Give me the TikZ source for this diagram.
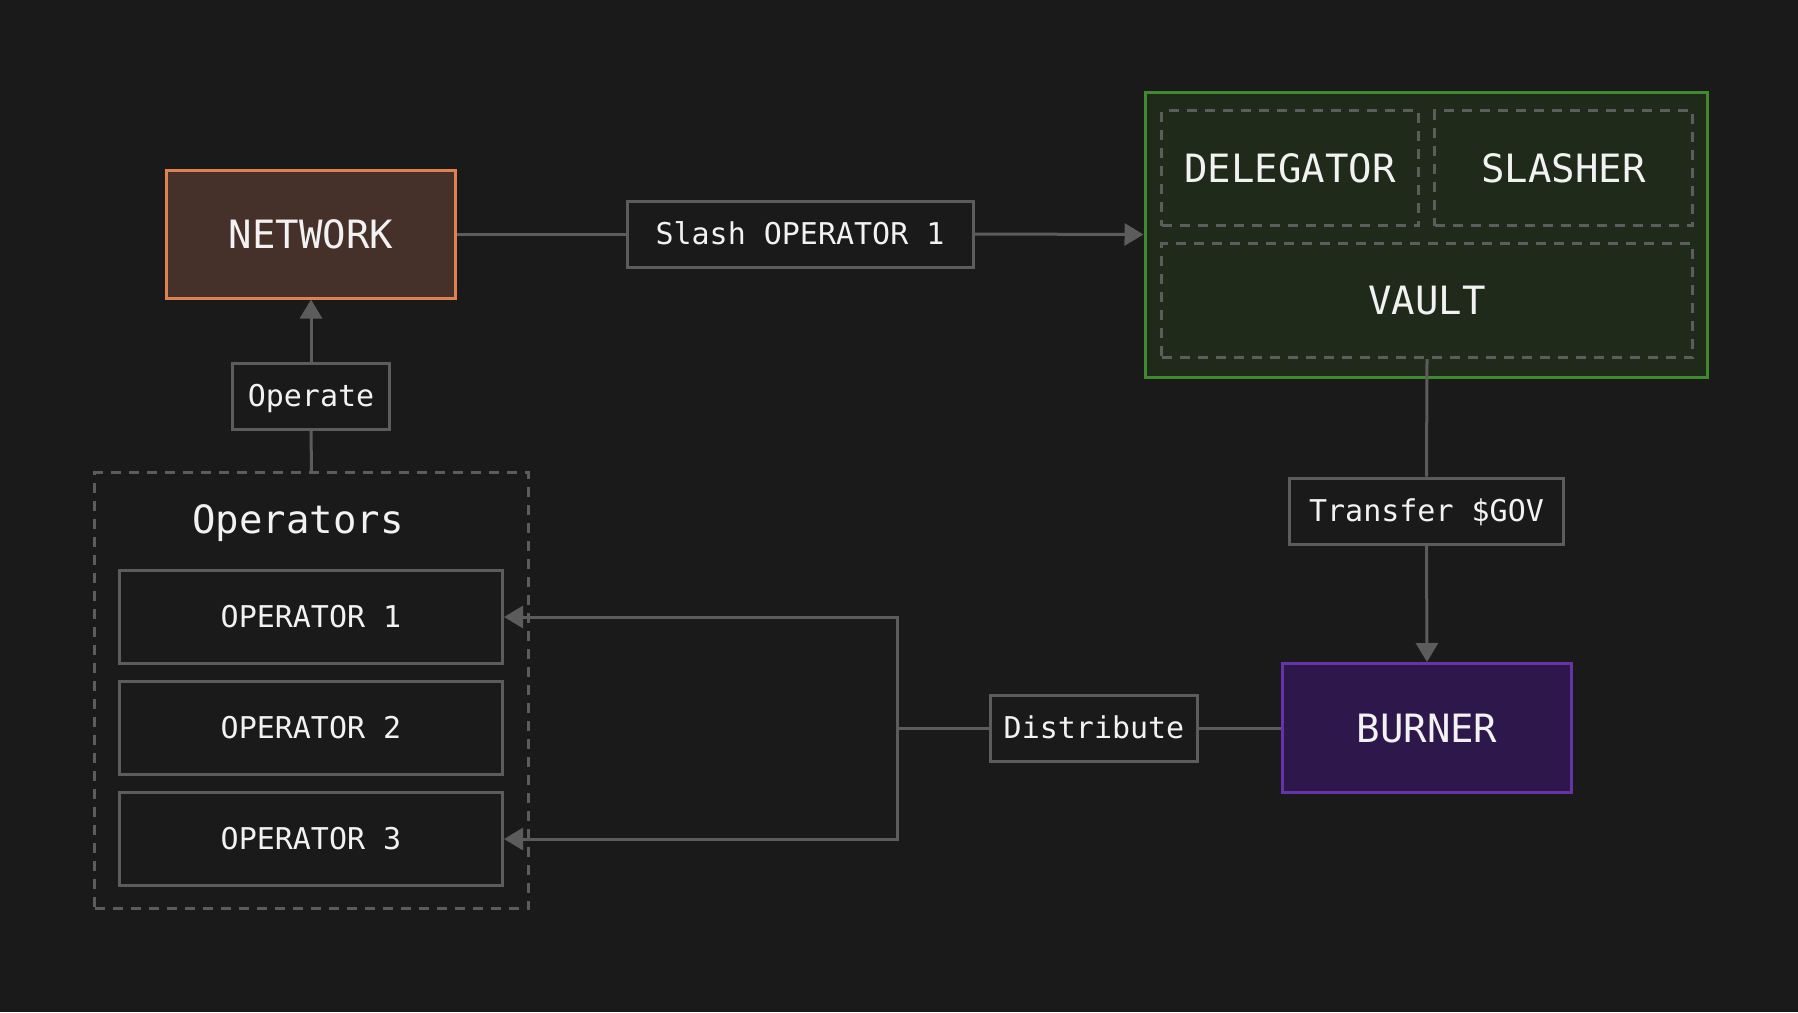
\documentclass[tikz,border=0pt]{standalone}
\usepackage{fontspec}
\setmainfont{DejaVu Sans Mono}
\usetikzlibrary{arrows.meta}
\definecolor{bg}{HTML}{1A1A1A}
\definecolor{ln}{HTML}{5C5C5C}
\definecolor{tx}{HTML}{F2F2F2}
\definecolor{netfill}{HTML}{46302A}
\definecolor{netdraw}{HTML}{E0814F}
\definecolor{grfill}{HTML}{1F2A1B}
\definecolor{grdraw}{HTML}{3F8A2C}
\definecolor{pufill}{HTML}{2E174A}
\definecolor{pudraw}{HTML}{6633A8}
\tikzset{
  base/.style={rectangle, inner sep=0pt, text=tx, line width=3pt, text depth=0pt},
  small/.style={base, draw=ln, fill=bg, font=\fontsize{30}{36}\selectfont, text height=21.9pt},
  big/.style={base, font=\fontsize{39}{46}\selectfont, text height=28.4pt},
  dbox/.style={base, draw=ln, dashed, dash pattern=on 10pt off 8pt, line width=2.5pt},
  conn/.style={draw=ln, line width=3pt},
  arr/.style={conn, -{Triangle[length=19pt,width=22pt]}},
}
\begin{document}
\begin{tikzpicture}[x=1pt,y=-1pt]
\useasboundingbox[fill=bg] (0,0) rectangle (1798,1012);

% top-left
\node[big, draw=netdraw, fill=netfill, minimum width=289pt, minimum height=128pt] (network) at (311,234) {NETWORK};
\node[small, minimum width=157pt, minimum height=66pt] (operate) at (311,396) {Operate};
\node[small, minimum width=346pt, minimum height=66pt] (slash) at (800,234) {Slash OPERATOR 1};

% vault group
\node[base, draw=grdraw, fill=grfill, minimum width=562pt, minimum height=285pt] (green) at (1426,234.5) {};
\node[dbox, big, minimum width=257pt, minimum height=115pt] (delegator) at (1290,168) {DELEGATOR};
\node[dbox, big, minimum width=258pt, minimum height=115pt] (slasher) at (1563.5,168) {SLASHER};
\node[dbox, big, minimum width=531pt, minimum height=114pt] (vault) at (1427,300.5) {VAULT};

% right column
\node[small, minimum width=274pt, minimum height=66pt] (transfer) at (1426.5,511) {Transfer \$GOV};
\node[big, draw=pudraw, fill=pufill, minimum width=289pt, minimum height=129pt] (burner) at (1427,728) {BURNER};
\node[small, minimum width=207pt, minimum height=66pt] (distribute) at (1094,728) {Distribute};

% operators group
\node[dbox, minimum width=434pt, minimum height=436pt] (operators) at (311.5,690.5) {};
\node[big] (optitle) at (298,519) {Operators};
\node[small, minimum width=383pt, minimum height=93pt] (op1) at (311,617) {OPERATOR 1};
\node[small, minimum width=383pt, minimum height=93pt] (op2) at (311,728) {OPERATOR 2};
\node[small, minimum width=383pt, minimum height=93pt] (op3) at (311,839) {OPERATOR 3};

\coordinate (junc) at (897,728);

% connectors
\draw[conn] (network.east) -- (slash.west);
\draw[arr] (slash.east) -- (green.west);
\draw[conn] (operators.north) -- (operate.south);
\draw[arr] (operate.north) -- (network.south);
\draw[conn] (vault.south) -- (transfer.north);
\draw[arr] (transfer.south) -- (burner.north);
\draw[conn] (burner.west) -- (distribute.east);
\draw[conn] (distribute.west) -- (junc);
\draw[arr] (junc) |- (op1.east);
\draw[arr] (junc) |- (op3.east);
\end{tikzpicture}
\end{document}
